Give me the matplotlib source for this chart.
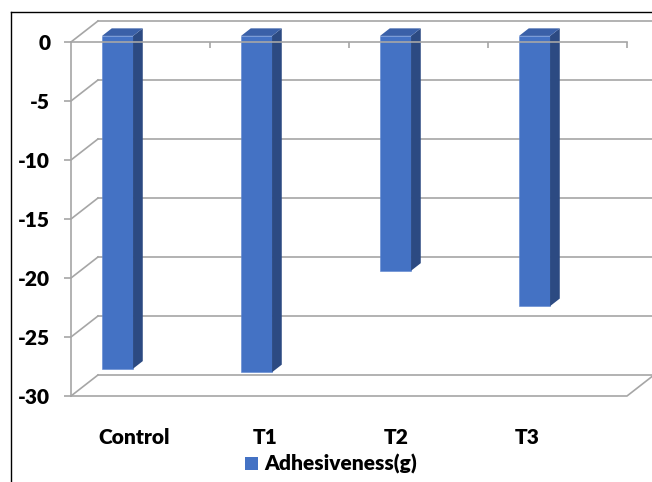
import matplotlib
matplotlib.use("Agg")
import matplotlib.pyplot as plt
import numpy as np
from matplotlib.patches import Polygon, Patch
from matplotlib.lines import Line2D

plt.rcParams['font.family'] = ['Lato', 'DejaVu Sans']
plt.rcParams['font.weight'] = 'bold'

# data
categories = ['Control', 'T1', 'T2', 'T3']
adhesiveness = [-28.2, -28.5, -19.9, -22.9]
series_name = 'Adhesiveness(g)'
y_ticks = [0, -5, -10, -15, -20, -25, -30]

# style
front_c = '#4472c4'
side_c = '#2c4a82'
top_c = '#3a60a8'
grid_c = '#a6a6a6'
fsize = 15
fweight = 'heavy'

# oblique depth of the plot box, in data units
depth_x, depth_y = 0.194, 1.78
bar_d0, bar_d1 = 0.29, 0.65
bar_w = 0.223

fig = plt.figure(figsize=(6.52, 4.82), dpi=100)
ax = fig.add_axes([71 / 652, 1 - 396 / 482, 556 / 652, 354 / 482])
ax.set_xlim(0, 4)
ax.set_ylim(-30, 0)

# walls: back gridlines + side diagonals
for v in y_ticks:
    ax.add_line(Line2D([depth_x, 4 + depth_x], [v + depth_y, v + depth_y],
                       color=grid_c, lw=1.2, zorder=0.5, clip_on=False))
    ax.add_line(Line2D([0, depth_x], [v, v + depth_y],
                       color=grid_c, lw=1.2, zorder=0.5, clip_on=False))
# floor front edge
ax.add_line(Line2D([0, 4, 4 + depth_x], [-30, -30, -30 + depth_y],
                   color=grid_c, lw=1.2, zorder=0.5, clip_on=False))

# bars (front face via bar, sides/top as polygons)
x = np.arange(len(categories)) + 0.335
y0 = bar_d0 * depth_y
ddx = (bar_d1 - bar_d0) * depth_x
ddy = (bar_d1 - bar_d0) * depth_y
ax.bar(x, adhesiveness, width=bar_w, bottom=y0, color=front_c,
       edgecolor='#5b85d0', linewidth=0.4, zorder=1, clip_on=False)
for xi, v in zip(x, adhesiveness):
    r = xi + bar_w / 2
    l = xi - bar_w / 2
    side = [(r, y0), (r + ddx, y0 + ddy), (r + ddx, y0 + v + ddy), (r, y0 + v)]
    top = [(l, y0), (r, y0), (r + ddx, y0 + ddy), (l + ddx, y0 + ddy)]
    ax.add_patch(Polygon(side, closed=True, facecolor=side_c, edgecolor='none',
                         zorder=1, clip_on=False))
    ax.add_patch(Polygon(top, closed=True, facecolor=top_c, edgecolor='none',
                         zorder=1, clip_on=False))

# category labels below the floor
lab_x = 0.457 + 0.9425 * np.arange(len(categories))
for lx, name in zip(lab_x, categories):
    ax.text(lx, -33.5, name, ha='center', va='center', fontsize=fsize,
            fontweight=fweight, clip_on=False)

# axes styling
for s in ['right', 'bottom']:
    ax.spines[s].set_visible(False)
for s in ['left', 'top']:
    ax.spines[s].set_color(grid_c)
    ax.spines[s].set_linewidth(1.2)
ax.set_yticks(y_ticks)
ax.set_yticklabels([str(t) for t in y_ticks], fontsize=fsize, fontweight=fweight)
ax.tick_params(axis='y', direction='out', length=5, width=1.2, color=grid_c, pad=10)
ax.xaxis.tick_top()
ax.set_xticks([1, 2, 3, 4])
ax.set_xticklabels([])
ax.tick_params(axis='x', direction='in', length=4, width=1.2, color=grid_c)
ax.patch.set_visible(False)

# legend
fig.legend(handles=[Patch(facecolor=front_c, edgecolor='none', label=series_name)],
           loc='center', bbox_to_anchor=(331 / 652, 1 - 464 / 482), frameon=False,
           prop={'size': fsize, 'weight': fweight},
           handlelength=0.58, handleheight=0.58, handletextpad=0.3,
           borderpad=0, borderaxespad=0)

# outer chart border (left and top visible)
fig.add_artist(Line2D([10.5 / 652, 10.5 / 652], [0, 1 - 12 / 482], color='black',
                      lw=1.0, transform=fig.transFigure))
fig.add_artist(Line2D([10.5 / 652, 1], [1 - 12 / 482, 1 - 12 / 482], color='black',
                      lw=1.0, transform=fig.transFigure))

fig.savefig('out.png', dpi=100)
